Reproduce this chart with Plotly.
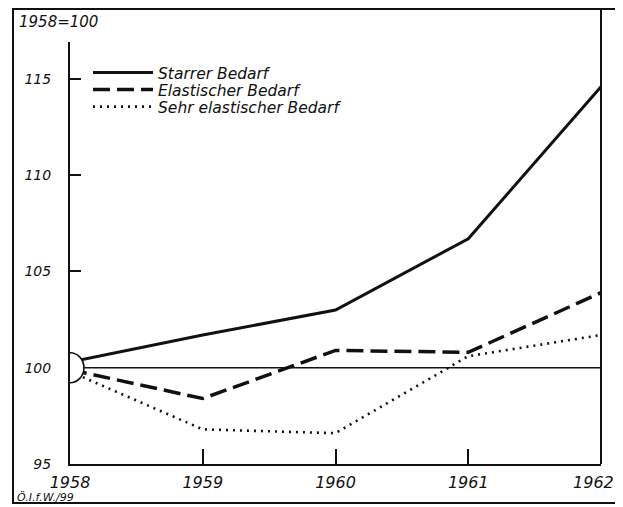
import plotly.graph_objects as go

years = [1958, 1959, 1960, 1961, 1962]
starrer = [100.3, 101.7, 103.0, 106.7, 114.6]
elastisch = [99.9, 98.4, 100.9, 100.8, 103.9]
sehr_elastisch = [99.8, 96.8, 96.6, 100.6, 101.7]
basis = [100, 100, 100, 100, 100]
y_ticks = [95, 100, 105, 110, 115]
x_ticks = [1958, 1959, 1960, 1961, 1962]
x_labels = ["1958", "1959", "1960", "1961", "1962\u00a0\u00a0\u00a0"]

FONT = "DejaVu Sans"
INK = "#111111"

fig = go.Figure()
fig.add_trace(go.Scatter(x=years, y=basis, mode="lines", showlegend=False,
                         line=dict(color=INK, width=1.4), hoverinfo="skip"))
fig.add_trace(go.Scatter(x=years, y=starrer, mode="lines", name="Starrer Bedarf",
                         legend="legend", line=dict(color=INK, width=3)))
fig.add_trace(go.Scatter(x=years, y=elastisch, mode="lines", name="Elastischer Bedarf",
                         legend="legend2", line=dict(color=INK, width=3.5, dash="17px,7px")))
fig.add_trace(go.Scatter(x=years, y=sehr_elastisch, mode="lines", name="Sehr elastischer Bedarf",
                         legend="legend3", line=dict(color=INK, width=2.6, dash="2px,5px")))

# the page body adds an 8px offset; layout is given in target-pixel coordinates
OFF = 8
W, H = 623 - OFF, 507 - OFF
PL, PR, PT, PB = 70, 601, 42, 464          # plot area in target pixels
L, R, T, B = PL - OFF, W - (PR - OFF), PT - OFF, H - (PB - OFF)
pw, ph = W - L - R, H - T - B

def px(xt):
    return (xt - OFF - L) / pw

def py(yt):
    return (H - B - (yt - OFF)) / ph

shapes = [
    # outer frame
    dict(type="rect", xref="paper", yref="paper", x0=px(13), x1=px(617), y0=py(503), y1=py(9),
         line=dict(color=INK, width=2)),
    # right vertical line
    dict(type="line", xref="paper", yref="paper", x0=1, x1=1, y0=0, y1=py(9),
         line=dict(color=INK, width=2)),
    # circle at base point
    dict(type="circle", xref="x", yref="y", x0=1958 - 0.105, x1=1958 + 0.105,
         y0=100 - 0.78, y1=100 + 0.78, line=dict(color=INK, width=1.6),
         fillcolor="white", layer="above"),
]

annotations = [
    dict(text="<i>1958=100</i>", xref="paper", yref="paper", x=px(17), y=py(22),
         xanchor="left", yanchor="middle", showarrow=False,
         font=dict(family=FONT, size=15, color=INK)),
    dict(text="<i>Ö.I.f.W./99</i>", xref="paper", yref="paper", x=px(15), y=py(497),
         xanchor="left", yanchor="middle", showarrow=False,
         font=dict(family=FONT, size=11, color=INK)),
]

def legend_at(yt):
    return dict(x=px(88), y=py(yt), xanchor="left", yanchor="middle",
                bgcolor="rgba(0,0,0,0)", itemwidth=60, tracegroupgap=0,
                font=dict(family=FONT, size=15.5, color=INK, style="italic"))

fig.update_layout(
    width=W, height=H,
    margin=dict(l=L, r=R, t=T, b=B, autoexpand=False),
    paper_bgcolor="white", plot_bgcolor="white",
    shapes=shapes, annotations=annotations,
    showlegend=True,
    legend=legend_at(73), legend2=legend_at(90), legend3=legend_at(107),
    xaxis=dict(range=[1958, 1962], tickvals=x_ticks, ticktext=x_labels,
               showgrid=False, zeroline=False, showline=True, linecolor=INK, linewidth=2,
               ticks="inside", ticklen=15, tickwidth=2, tickcolor=INK,
               ticklabelstandoff=3, ticklabeloverflow="allow",
               tickfont=dict(family=FONT, size=16, color=INK, style="italic")),
    yaxis=dict(range=[95, 116.92], tickvals=y_ticks, ticktext=[str(v) for v in y_ticks],
               showgrid=False, zeroline=False, showline=True, linecolor=INK, linewidth=2,
               ticks="inside", ticklen=11, tickwidth=1.5, tickcolor=INK,
               ticklabelstandoff=14,
               tickfont=dict(family=FONT, size=14, color=INK, style="italic")),
)

fig.write_html("out.html")
